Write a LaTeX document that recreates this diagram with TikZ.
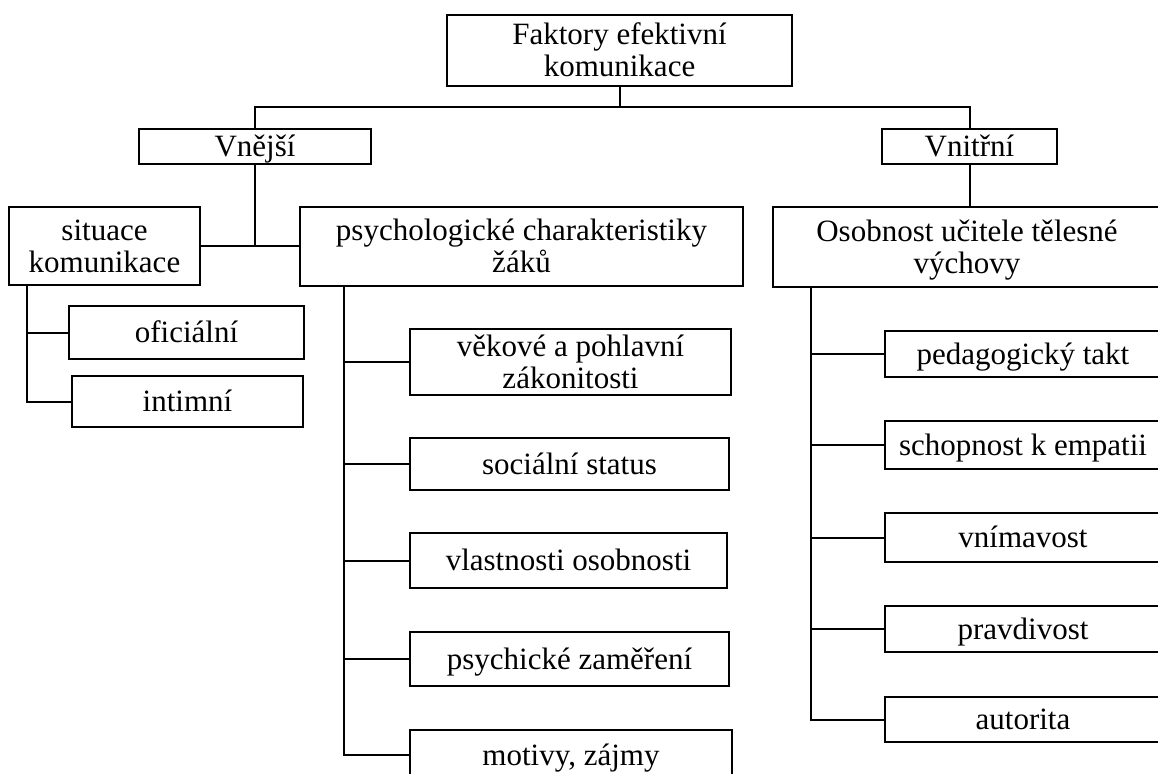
\documentclass[tikz,border=0pt]{standalone}
\usepackage{fontspec}
\setmainfont{Liberation Serif}
\usepackage{tikz}

\tikzset{
    box/.style={draw, line width=2pt, align=center, inner sep=0pt, font=\fontsize{31}{32}\selectfont},
    oneline/.style={box, text height=20pt, text depth=0pt},
    twoline/.style={box, text height=52pt, text depth=0pt},
    link/.style={line width=2pt}
}

\begin{document}
\begin{tikzpicture}[x=1pt, y=-1pt]
    \useasboundingbox (0,0) rectangle (1158,773);
    \node(top)[twoline, minimum width=345, minimum height=71] at (619.5,50.5) {Faktory efektivní\\komunikace};
    \node(vnejsi)[oneline, minimum width=232, minimum height=35] at (255,146.5) {Vnější};
    \node(vnitrni)[oneline, minimum width=175, minimum height=35] at (969.5,146.5) {Vnitřní};
    \node(situace)[twoline, minimum width=191, minimum height=78] at (104.5,246) {situace\\komunikace};
    \node(psych)[twoline, minimum width=443, minimum height=79] at (521.5,246) {psychologické charakteristiky\\žáků};
    \node(osob)[twoline, minimum width=388, minimum height=80] at (967,247) {Osobnost učitele tělesné\\výchovy};
    \node(oficialni)[oneline, minimum width=235, minimum height=53] at (186.5,332.5) {oficiální};
    \node(intimni)[oneline, minimum width=231, minimum height=51] at (187.5,401.5) {intimní};
    \node(vekove)[twoline, minimum width=321, minimum height=66] at (570.5,362) {věkové a pohlavní\\zákonitosti};
    \node(socialni)[oneline, minimum width=319, minimum height=52] at (569.5,464) {sociální status};
    \node(vlastnosti)[oneline, minimum width=317, minimum height=55] at (568.5,560.5) {vlastnosti osobnosti};
    \node(psychicke)[oneline, minimum width=319, minimum height=54] at (569.5,659) {psychické zaměření};
    \node(motivy)[oneline, minimum width=322, minimum height=50] at (571,755) {motivy, zájmy};
    \node(takt)[oneline, minimum width=276, minimum height=46] at (1023,354) {pedagogický takt};
    \node(empatie)[oneline, minimum width=276, minimum height=48] at (1023,445) {schopnost k empatii};
    \node(vnimavost)[oneline, minimum width=276, minimum height=49] at (1023,537.5) {vnímavost};
    \node(pravdivost)[oneline, minimum width=276, minimum height=46] at (1023,629) {pravdivost};
    \node(autorita)[oneline, minimum width=276, minimum height=45] at (1023,719.5) {autorita};

    \coordinate(split) at (619.5,107);
    \coordinate(sitroot) at ([xshift=19pt]situace.south west);
    \coordinate(psyroot) at ([xshift=45pt]psych.south west);
    \coordinate(osobroot) at ([xshift=39pt]osob.south west);

    \draw[link] (top.south) -- (split);
    \draw[link] (vnejsi.north) |- (split) -| (vnitrni.north);
    \draw[link] (vnejsi.south) -- (vnejsi.south |- situace.east);
    \draw[link] (situace.east) -- (psych.west);
    \draw[link] (vnitrni.south) -- (vnitrni.south |- osob.north);
    \draw[link] (sitroot) |- (oficialni.west);
    \draw[link] (sitroot) |- (intimni.west);
    \draw[link] (psyroot) |- (vekove.west);
    \draw[link] (psyroot) |- (socialni.west);
    \draw[link] (psyroot) |- (vlastnosti.west);
    \draw[link] (psyroot) |- (psychicke.west);
    \draw[link] (psyroot) |- (motivy.west);
    \draw[link] (osobroot) |- (takt.west);
    \draw[link] (osobroot) |- (empatie.west);
    \draw[link] (osobroot) |- (vnimavost.west);
    \draw[link] (osobroot) |- (pravdivost.west);
    \draw[link] (osobroot) |- (autorita.west);
\end{tikzpicture}
\end{document}
